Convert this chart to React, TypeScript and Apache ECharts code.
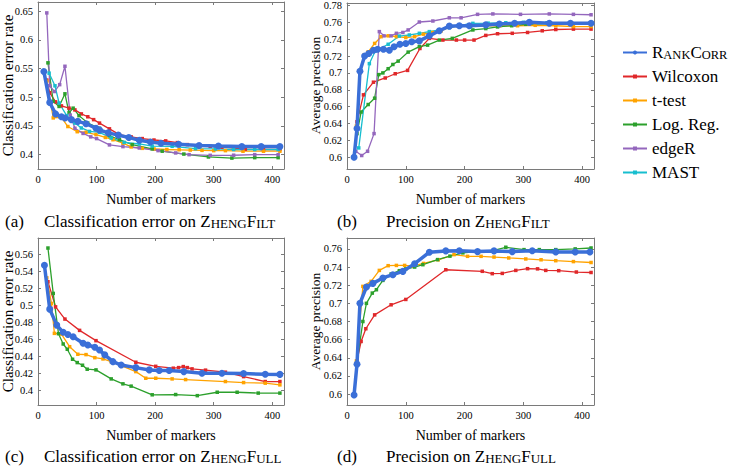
import React, { useEffect, useRef } from "react";
import * as echarts from "echarts";

const FONT = "Liberation Serif";

const SERIES_NAMES = ["RankCorr", "Wilcoxon", "t-test", "Log. Reg.", "edgeR", "MAST"];
const COLORS = ["#3a6fd8", "#e0282a", "#ffa300", "#2ca02c", "#9467bd", "#17becf"];

const X_TICKS = [0, 100, 200, 300, 400];
const Y_TICKS_A = [0.4, 0.45, 0.5, 0.55, 0.6, 0.65];
const Y_TICKS_B = [0.6, 0.62, 0.64, 0.66, 0.68, 0.7, 0.72, 0.74, 0.76, 0.78];
const Y_TICKS_C = [0.4, 0.42, 0.44, 0.46, 0.48, 0.5, 0.52, 0.54, 0.56];
const Y_TICKS_D = [0.6, 0.62, 0.64, 0.66, 0.68, 0.7, 0.72, 0.74, 0.76];

// (a) Classification error on ZhengFilt
const A_RANKCORR = [[10,0.545],[20,0.491],[30,0.471],[40,0.466],[46,0.464],[57,0.461],[68,0.458],[82,0.454],[99,0.446],[105,0.443],[120,0.438],[137,0.434],[155,0.43],[173,0.425],[192,0.422],[210,0.42],[240,0.418],[275,0.416],[308,0.415],[348,0.414],[381,0.414],[413,0.414]];
const A_WILCOXON = [[15,0.53],[20,0.508],[30,0.492],[40,0.485],[53,0.481],[63,0.478],[74,0.471],[85,0.466],[95,0.461],[105,0.455],[122,0.445],[139,0.435],[159,0.431],[178,0.428],[198,0.4255],[218,0.424],[238,0.421],[255,0.4175],[275,0.4155],[294,0.4145],[314,0.413],[334,0.4115],[354,0.4095],[385,0.409],[413,0.409]];
const A_TTEST = [[15,0.528],[26,0.464],[40,0.465],[51,0.449],[67,0.44],[82,0.439],[99,0.435],[115,0.43],[128,0.426],[145,0.42],[159,0.4135],[178,0.411],[198,0.41],[220,0.409],[241,0.4085],[260,0.408],[280,0.4075],[300,0.407],[320,0.407],[350,0.406],[385,0.406],[413,0.406]];
const A_LOGREG = [[17,0.56],[26,0.493],[36,0.484],[46,0.506],[53,0.473],[60,0.481],[70,0.468],[85,0.455],[105,0.446],[122,0.433],[139,0.426],[161,0.4175],[195,0.41],[212,0.406],[249,0.401],[291,0.396],[331,0.394],[370,0.3948],[410,0.3948]];
const A_EDGER = [[15,0.647],[20,0.52],[28,0.51],[37,0.522],[46,0.554],[55,0.469],[63,0.446],[77,0.437],[90,0.431],[100,0.428],[122,0.417],[145,0.414],[173,0.4116],[205,0.407],[235,0.403],[258,0.4],[294,0.3988],[334,0.399],[370,0.4],[410,0.4]];
const A_MAST = [[19,0.542],[29,0.52],[36,0.49],[49,0.468],[63,0.455],[74,0.4465],[88,0.4405],[105,0.4388],[125,0.429],[147,0.4214],[173,0.4186],[195,0.415],[229,0.4145],[269,0.4104],[303,0.41],[334,0.409],[370,0.409],[410,0.409]];

// (b) Precision on ZhengFilt
const B_RANKCORR = [[12,0.6],[17,0.634],[22,0.702],[30,0.72],[37,0.723],[45,0.727],[52,0.728],[62,0.728],[72,0.727],[80,0.731],[90,0.734],[100,0.735],[110,0.737],[123,0.738],[140,0.744],[157,0.75],[174,0.7555],[191,0.756],[208,0.756],[236,0.757],[259,0.758],[285,0.759],[310,0.76],[344,0.759],[380,0.759],[415,0.759]];
const B_WILCOXON = [[17,0.642],[28,0.674],[45,0.689],[65,0.694],[82,0.699],[103,0.703],[124,0.729],[140,0.741],[163,0.739],[186,0.739],[200,0.739],[216,0.739],[236,0.7445],[256,0.7465],[281,0.747],[307,0.748],[332,0.75],[355,0.7515],[385,0.752],[415,0.752]];
const B_TTEST = [[16,0.637],[22,0.7],[29,0.721],[36,0.725],[47,0.735],[58,0.743],[70,0.744],[84,0.743],[100,0.742],[115,0.743],[130,0.746],[145,0.748],[160,0.75],[175,0.7545],[191,0.7555],[210,0.7555],[236,0.756],[260,0.756],[290,0.756],[320,0.7565],[355,0.756],[385,0.755],[415,0.755]];
const B_LOGREG = [[17,0.628],[24,0.6536],[36,0.6625],[47,0.67],[54,0.698],[61,0.7],[70,0.705],[78,0.71],[87,0.714],[104,0.7247],[123,0.7313],[137,0.733],[157,0.739],[179,0.741],[214,0.751],[236,0.7526],[256,0.7546],[280,0.756],[304,0.7577],[344,0.7585],[380,0.7585],[415,0.7585]];
const B_EDGER = [[15,0.607],[25,0.602],[35,0.607],[46,0.628],[55,0.749],[63,0.744],[75,0.744],[84,0.747],[95,0.748],[104,0.751],[123,0.7604],[146,0.7616],[174,0.7654],[194,0.7654],[222,0.7695],[248,0.77],[295,0.7695],[344,0.77],[385,0.7695],[415,0.769]];
const B_MAST = [[20,0.611],[38,0.711],[48,0.726],[70,0.734],[89,0.7437],[106,0.745],[123,0.747],[140,0.749],[157,0.751],[174,0.7538],[191,0.7565],[214,0.7588],[240,0.759],[270,0.7595],[300,0.76],[340,0.7595],[380,0.7595],[415,0.7595]];

// (c) Classification error on ZhengFull
const C_RANKCORR = [[11,0.5475],[20,0.4958],[32,0.477],[43,0.4685],[51,0.466],[60,0.4634],[77,0.4556],[85,0.4536],[97,0.451],[105,0.4477],[114,0.442],[128,0.434],[142,0.43],[167,0.427],[190,0.4243],[207,0.4235],[224,0.4235],[249,0.4223],[280,0.4204],[314,0.4204],[351,0.42],[388,0.4192],[413,0.419]];
const C_WILCOXON = [[17,0.528],[30,0.4985],[46,0.4841],[71,0.4708],[99,0.4587],[167,0.4333],[201,0.4285],[231,0.4263],[240,0.427],[248,0.4282],[255,0.427],[263,0.4255],[286,0.424],[320,0.4216],[351,0.4164],[388,0.4106],[413,0.4106]];
const C_TTEST = [[15,0.5326],[23,0.5025],[28,0.4673],[40,0.4665],[54,0.4516],[68,0.4427],[82,0.4423],[97,0.4387],[111,0.4372],[125,0.434],[142,0.4293],[167,0.4223],[184,0.4145],[201,0.4145],[229,0.4137],[252,0.4129],[320,0.4106],[351,0.4094],[388,0.4087],[413,0.4067]];
const C_LOGREG = [[17,0.5677],[26,0.5143],[35,0.4669],[43,0.4548],[50,0.4486],[59,0.4368],[67,0.4329],[76,0.4298],[84,0.4251],[99,0.4243],[125,0.4137],[145,0.4079],[159,0.4052],[195,0.395],[235,0.3953],[272,0.394],[306,0.398],[340,0.398],[376,0.397],[413,0.397]];

// (d) Precision on ZhengFull
const D_RANKCORR = [[12,0.599],[17,0.633],[22,0.7],[33,0.718],[44,0.722],[61,0.728],[78,0.7316],[95,0.7352],[115,0.7437],[140,0.7563],[168,0.7578],[191,0.758],[222,0.757],[250,0.7578],[281,0.757],[315,0.758],[355,0.7567],[388,0.7565],[413,0.7565]];
const D_WILCOXON = [[17,0.6365],[24,0.658],[32,0.672],[47,0.6873],[75,0.6984],[100,0.7043],[168,0.737],[230,0.7353],[247,0.7327],[264,0.733],[287,0.7363],[307,0.7382],[324,0.738],[338,0.7363],[360,0.736],[390,0.7345],[415,0.734]];
const D_TTEST = [[16,0.6365],[27,0.7187],[41,0.7242],[55,0.7363],[70,0.7415],[84,0.7418],[98,0.7418],[112,0.741],[130,0.744],[155,0.748],[182,0.7537],[205,0.7518],[228,0.7518],[250,0.751],[275,0.75],[304,0.7489],[330,0.748],[355,0.747],[385,0.746],[415,0.745]];
const D_LOGREG = [[17,0.635],[27,0.68],[33,0.7],[43,0.7113],[50,0.715],[61,0.7253],[75,0.7323],[89,0.736],[100,0.738],[115,0.74],[129,0.7426],[154,0.7482],[175,0.752],[197,0.7556],[222,0.757],[248,0.7581],[270,0.7618],[301,0.7592],[327,0.7592],[355,0.7592],[388,0.76],[415,0.761]];

const PANELS = [
  { rect: { left: 38, top: 2, width: 246, height: 167 }, y: [0.375, 0.666], yTicks: Y_TICKS_A, series: [A_RANKCORR, A_WILCOXON, A_TTEST, A_LOGREG, A_EDGER, A_MAST], yName: "Classification error rate", yNameSize: 15, yNameX: 8 },
  { rect: { left: 347, top: 2, width: 247, height: 167 }, y: [0.586, 0.783], yTicks: Y_TICKS_B, series: [B_RANKCORR, B_WILCOXON, B_TTEST, B_LOGREG, B_EDGER, B_MAST], yName: "Average precision", yNameSize: 13.5, yNameX: 315 },
  { rect: { left: 38, top: 238, width: 246, height: 167 }, y: [0.383, 0.5795], yTicks: Y_TICKS_C, series: [C_RANKCORR, C_WILCOXON, C_TTEST, C_LOGREG], yName: "Classification error rate", yNameSize: 15, yNameX: 8 },
  { rect: { left: 347, top: 238, width: 247, height: 167 }, y: [0.588, 0.772], yTicks: Y_TICKS_D, series: [D_RANKCORR, D_WILCOXON, D_TTEST, D_LOGREG], yName: "Average precision", yNameSize: 13.5, yNameX: 315 },
];

const CAPTIONS = [
  { tag: "(a)", x: 5, tx: 44, y: 221, text: "{r|Classification error on }{b|Z}{s|HENG}{b|F}{s|ILT}" },
  { tag: "(b)", x: 337, tx: 386, y: 221, text: "{r|Precision on }{b|Z}{s|HENG}{b|F}{s|ILT}" },
  { tag: "(c)", x: 5, tx: 44, y: 456, text: "{r|Classification error on }{b|Z}{s|HENG}{b|F}{s|ULL}" },
  { tag: "(d)", x: 337, tx: 386, y: 456, text: "{r|Precision on }{b|Z}{s|HENG}{b|F}{s|ULL}" },
];

const AXIS_COLOR = "#7a7a7a";
const fmt = (v: number) => String(parseFloat(Number(v).toFixed(3)));

export default function App() {
  const ref = useRef<HTMLDivElement>(null);
  useEffect(() => {
    if (!ref.current) return;
    const chart = echarts.init(ref.current, null, { renderer: "svg" });
    const grid: any[] = [];
    const xAxis: any[] = [];
    const yAxis: any[] = [];
    const series: any[] = [];
    const graphic: any[] = [];
    const lineCommon = { show: true, onZero: false, lineStyle: { color: AXIS_COLOR, width: 1 } };
    PANELS.forEach((p, i) => {
      grid.push({ ...p.rect, containLabel: false });
      const tickStyle = { inside: true, length: 3, lineStyle: { color: AXIS_COLOR } };
      xAxis.push({
        type: "value", gridIndex: i, position: "bottom", min: 0, max: 420,
        axisLine: lineCommon, splitLine: { show: false },
        axisTick: { ...tickStyle, customValues: X_TICKS },
        axisLabel: { customValues: X_TICKS, margin: 5, fontFamily: FONT, fontSize: 10.5, color: "#000", formatter: fmt },
      });
      xAxis.push({
        type: "value", gridIndex: i, position: "top", min: 0, max: 420,
        axisLine: lineCommon, splitLine: { show: false },
        axisTick: { ...tickStyle, customValues: X_TICKS },
        axisLabel: { show: false },
      });
      yAxis.push({
        type: "value", gridIndex: i, position: "left", min: p.y[0], max: p.y[1],
        axisLine: lineCommon, splitLine: { show: false },
        axisTick: { ...tickStyle, customValues: p.yTicks },
        axisLabel: { customValues: p.yTicks, margin: 5, fontFamily: FONT, fontSize: 10.5, color: "#000", formatter: fmt },
      });
      yAxis.push({
        type: "value", gridIndex: i, position: "right", min: p.y[0], max: p.y[1],
        axisLine: lineCommon, splitLine: { show: false },
        axisTick: { ...tickStyle, customValues: p.yTicks },
        axisLabel: { show: false },
      });
      p.series.forEach((data, k) => {
        const main = k === 0;
        series.push({
          type: "line", name: SERIES_NAMES[k], data,
          xAxisIndex: 2 * i, yAxisIndex: 2 * i,
          z: main ? 5 : 2,
          symbol: main ? "circle" : "rect",
          symbolSize: main ? 7 : 3.5,
          showSymbol: true,
          lineStyle: { color: COLORS[k], width: main ? 3.5 : 1.3 },
          itemStyle: { color: COLORS[k] },
        });
      });
      const cx = p.rect.left + p.rect.width / 2;
      const cy = p.rect.top + p.rect.height / 2;
      graphic.push({
        type: "text", x: p.yNameX, y: cy, rotation: Math.PI / 2,
        style: { text: p.yName, font: `${p.yNameSize}px ${FONT}`, fill: "#000", align: "center", verticalAlign: "middle" },
      });
      graphic.push({
        type: "text", x: cx, y: p.rect.top + p.rect.height + 30,
        style: { text: "Number of markers", font: `14px ${FONT}`, fill: "#000", align: "center", verticalAlign: "middle" },
      });
    });
    const richCap = {
      r: { fontFamily: FONT, fontSize: 17, verticalAlign: "bottom", fill: "#000" },
      b: { fontFamily: FONT, fontSize: 17, verticalAlign: "bottom", fill: "#000" },
      s: { fontFamily: FONT, fontSize: 13, verticalAlign: "bottom", fill: "#000" },
    };
    CAPTIONS.forEach((c) => {
      graphic.push({
        type: "text", x: c.x, y: c.y,
        style: { text: c.tag, font: `17px ${FONT}`, fill: "#000", align: "left", verticalAlign: "middle" },
      });
      graphic.push({
        type: "text", x: c.tx, y: c.y,
        style: { text: c.text, font: `17px ${FONT}`, fill: "#000", align: "left", verticalAlign: "middle", rich: richCap },
      });
    });
    chart.setOption({
      animation: false,
      backgroundColor: "#fff",
      textStyle: { fontFamily: FONT },
      grid, xAxis, yAxis, series, graphic,
      legend: {
        orient: "vertical", left: 617, top: 39, itemWidth: 24, itemHeight: 5, itemGap: 7,
        data: SERIES_NAMES,
        formatter: (name: string) => (name === "RankCorr" ? "{b|R}{s|ANK}{b|C}{s|ORR}" : name),
        textStyle: {
          fontFamily: FONT, fontSize: 17, color: "#000",
          rich: {
            b: { fontFamily: FONT, fontSize: 17, color: "#000", verticalAlign: "bottom" },
            s: { fontFamily: FONT, fontSize: 12.5, color: "#000", verticalAlign: "bottom" },
          },
        },
      },
    });
    return () => chart.dispose();
  }, []);
  return <div ref={ref} style={{ position: "fixed", left: 0, top: 0, width: 729, height: 467, background: "#fff", fontFamily: FONT }} />;
}
